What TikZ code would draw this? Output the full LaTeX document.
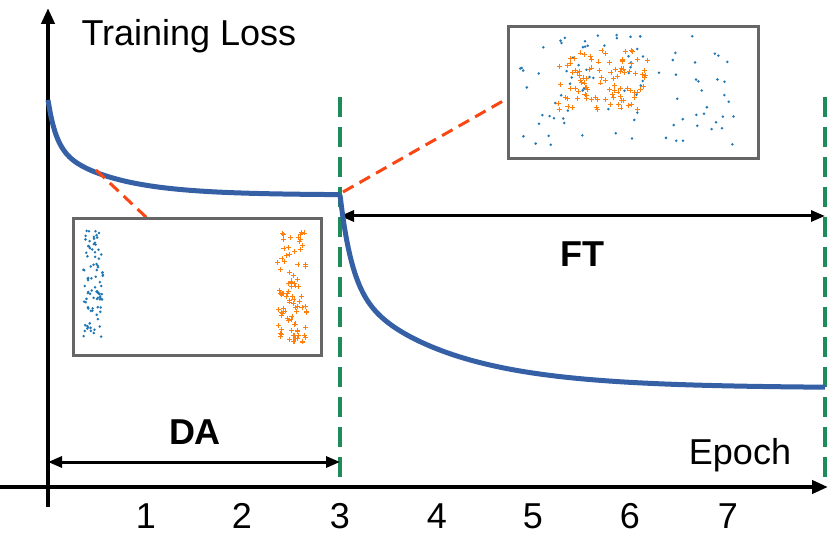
\documentclass[tikz,border=0pt]{standalone}
\usepackage{fontspec}
\setmainfont{Liberation Sans}
\usetikzlibrary{arrows.meta}
\definecolor{lossblue}{RGB}{54,96,166}
\definecolor{phasegreen}{RGB}{30,140,90}
\definecolor{zoomred}{RGB}{250,70,20}
\definecolor{ptblue}{RGB}{31,119,180}
\definecolor{ptorange}{RGB}{255,127,14}
\tikzset{
  axis/.style={line width=4.5pt,-{Triangle[length=16pt,width=13pt]}},
  phase/.style={phasegreen,line width=3.5pt,dash pattern=on 20pt off 10pt},
  span/.style={line width=3pt,{Triangle[length=14pt,width=11pt]}-{Triangle[length=14pt,width=11pt]}},
  inset/.style={draw=black!60,line width=3pt,fill=white},
  zoomline/.style={zoomred,line width=3pt,dash pattern=on 12pt off 7pt},
  lbl/.style={font=\fontsize{36}{40}\selectfont},
  plus/.style={ptorange,line width=0.8pt},
}
\newcommand{\plusmark}[2]{\draw[plus] (#1-2.5,#2) -- (#1+2.5,#2) (#1,#2-2.5) -- (#1,#2+2.5);}
\begin{document}
\begin{tikzpicture}[x=1pt,y=-1pt]
  \useasboundingbox (0,0) rectangle (830,537);
  % Achsen
  \draw[axis] (48,507) -- (48,8);
  \draw[axis] (0,487) -- (828,487);
  \node[lbl,anchor=west] (ylab) at (78,36) {Training Loss};
  \node[lbl] (xlab) at (740,455) {Epoch};
  \foreach \x [count=\i from 1] in {146,242,340,437,533,630,728} {
    \node[lbl] (tick\i) at (\x,516) {\i};
  }
  % Phasen
  \draw[phase] (340,97) -- (340,487);
  \draw[phase] (825,97) -- (825,487);
  \coordinate (da0) at (48,462);
  \coordinate (da1) at (340,462);
  \coordinate (ft0) at (340,216);
  \coordinate (ft1) at (825,216);
  \draw[span] (da0) -- (da1);
  \draw[span] (ft0) -- (ft1);
  \node[lbl,font=\fontsize{36}{40}\selectfont\bfseries] (da) at (195,432) {DA};
  \node[lbl,font=\fontsize{36}{40}\selectfont\bfseries] (ft) at (582,254) {FT};
  % Verlust
  \draw[lossblue,line width=5pt] plot[domain=48:340,samples=150,smooth]
    (\x,{195-45*exp(-(\x-48)/8)-50*exp(-(\x-48)/60)});
  \draw[lossblue,line width=5pt] plot[domain=340:825,samples=150,smooth]
    (\x,{388-90*exp(-(\x-340)/12)-103*exp(-(\x-340)/100)});
  % Zoom-Linien
  \draw[zoomline] (96,170) -- (147,218);
  \draw[zoomline] (343,192) -- (510,97);
  % Inset links
  \node[inset,minimum width=248pt,minimum height=137pt,anchor=north west] (boxl) at (72,217) {};
  \pgfmathsetseed{7}
  \foreach \k in {1,...,90} {
    \fill[ptblue] ({93+10*rand},{282+55*rand}) circle (1.4pt);
    \pgfmathsetmacro{\px}{292+15*rand}
    \pgfmathsetmacro{\py}{287+55*rand}
    \plusmark{\px}{\py}
  }
  % Inset rechts
  \node[inset,minimum width=250pt,minimum height=132pt,anchor=north west] (boxr) at (507,25) {};
  \foreach \k in {1,...,90} {
    \fill[ptblue] ({630+110*rand},{90+55*rand}) circle (1.4pt);
  }
  \foreach \k in {1,...,100} {
    \pgfmathsetmacro{\px}{603+45*rand}
    \pgfmathsetmacro{\py}{80+30*rand}
    \plusmark{\px}{\py}
  }
\end{tikzpicture}
\end{document}
